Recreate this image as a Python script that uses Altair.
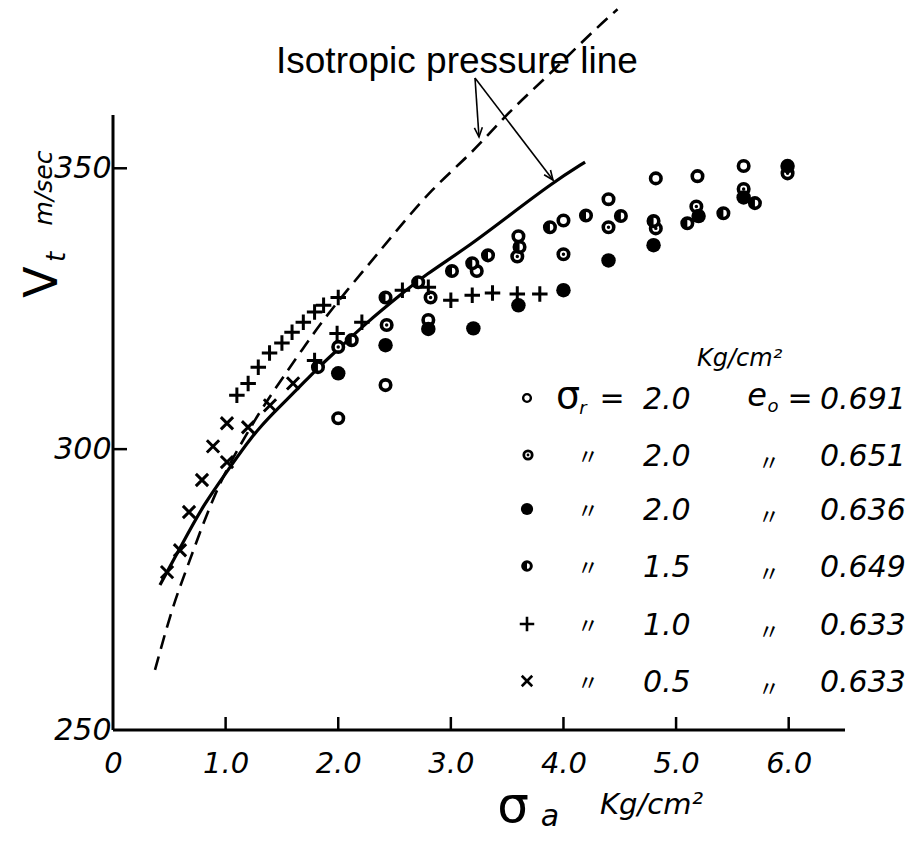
import altair as alt
import pandas as pd

# ---------------- data ----------------
# sigma_r = 2.0, e0 = 0.691 (open circle)
open_x = [2.00, 2.42, 2.80, 3.23, 3.60, 4.00, 4.40, 4.82, 5.19, 5.60]
open_y = [305.5, 311.4, 323.0, 331.7, 337.9, 340.7, 344.5, 348.2, 348.6, 350.4]
# sigma_r = 2.0, e0 = 0.651 (dotted circle)
dot_x = [2.00, 2.43, 2.82, 3.59, 4.00, 4.40, 4.82, 5.18, 5.60, 5.99]
dot_y = [318.2, 322.1, 327.0, 334.3, 334.7, 339.5, 339.3, 343.2, 346.3, 349.1]
# sigma_r = 2.0, e0 = 0.636 (filled circle)
fill_x = [2.00, 2.42, 2.80, 3.20, 3.60, 4.00, 4.40, 4.80, 5.20, 5.60, 5.99]
fill_y = [313.5, 318.5, 321.4, 321.5, 325.6, 328.3, 333.6, 336.3, 341.5, 344.8, 350.4]
# sigma_r = 1.5, e0 = 0.649 (half filled circle)
half_x = [1.82, 2.12, 2.42, 2.71, 3.01, 3.19, 3.33, 3.61, 3.88, 4.20, 4.51, 4.80, 5.10, 5.42, 5.70]
half_y = [314.6, 319.4, 327.0, 329.7, 331.7, 333.1, 334.5, 336.0, 339.5, 341.6, 341.5, 340.6, 340.2, 342.0, 343.8]
# sigma_r = 1.0, e0 = 0.633 (+)
plus_x = [1.10, 1.20, 1.29, 1.39, 1.50, 1.59, 1.69, 1.79, 1.87, 2.00,
          1.79, 1.99, 2.21, 2.57, 2.80, 3.00, 3.19, 3.37, 3.59, 3.79]
plus_y = [309.6, 311.7, 314.6, 317.1, 318.9, 320.8, 322.6, 324.4, 325.6, 327.0,
          315.8, 320.6, 322.6, 328.3, 328.8, 326.5, 327.4, 327.8, 327.6, 327.6]
# sigma_r = 0.5, e0 = 0.633 (x)
cross_x = [0.48, 0.595, 0.675, 0.79, 0.888, 1.012, 1.012, 1.199, 1.394, 1.599]
cross_y = [278.1, 282.0, 288.8, 294.5, 300.5, 304.6, 297.7, 303.9, 307.8, 311.7]

# isotropic pressure lines
iso_x = [0.373, 0.524, 0.64, 0.80, 0.977, 1.19, 1.33, 1.51, 1.72, 1.93,
         2.28, 2.46, 2.84, 3.19, 3.50, 3.85, 4.24, 4.48]
iso_y = [260.7, 271.7, 277.9, 286.8, 295.4, 302.8, 307.5, 312.8, 318.9, 324.7,
         333.1, 337.5, 346.6, 352.7, 359.8, 366.2, 374.0, 378.3]
sol_x = [0.417, 0.62, 0.80, 1.04, 1.22, 1.42, 1.63, 1.81, 1.99, 2.256,
         2.549, 2.77, 3.144, 3.499, 3.908, 4.192]
sol_y = [275.8, 283.3, 290.0, 296.8, 302.0, 306.4, 310.5, 314.3, 317.6, 322.6,
         327.4, 331.0, 335.9, 341.3, 347.5, 351.1]

x_ticks = [0, 1, 2, 3, 4, 5, 6]
x_tick_labels = ["0", "1.0", "2.0", "3.0", "4.0", "5.0", "6.0"]
y_ticks = [250, 300, 350]
y_tick_labels = ["250", "300", "350"]
x_inner_ticks = [1, 2, 3, 4, 5, 6]
y_inner_ticks = [300, 350]

legend_sr = ["2.0", "2.0", "2.0", "1.5", "1.0", "0.5"]
legend_e0 = ["0.691", "0.651", "0.636", "0.649", "0.633", "0.633"]

# ---------------- layout ----------------
W, H = 732, 719
X0, Y0 = 113, 11          # page position of the plot origin
FONT = "DejaVu Sans"
BLACK = "black"

xs = alt.Scale(domain=[0, 6.5], nice=False, zero=False)
ys = alt.Scale(domain=[250, 378], nice=False, zero=False)

x_label_expr = " : ".join(
    [f"datum.value == {v} ? '{l}'" for v, l in zip(x_ticks, x_tick_labels)] + ["''"]
)
y_label_expr = " : ".join(
    [f"datum.value == {v} ? '{l}'" for v, l in zip(y_ticks, y_tick_labels)] + ["''"]
)

xaxis = alt.Axis(values=x_ticks, labelExpr=x_label_expr, title=None, grid=False,
                 domain=False, ticks=False, tickSize=0, labelPadding=33,
                 labelFont=FONT, labelFontStyle="italic", labelFontSize=29,
                 labelColor=BLACK, labelOverlap=False, labelFlush=False,
                 labelBaseline="middle")
yaxis = alt.Axis(values=y_ticks, labelExpr=y_label_expr, title=None, grid=False,
                 domain=False, ticks=False, tickSize=0, labelPadding=2,
                 labelFont=FONT, labelFontStyle="italic", labelFontSize=30,
                 labelColor=BLACK, labelOverlap=False, labelFlush=False)


def enc():
    return dict(x=alt.X("x:Q", scale=xs, axis=xaxis),
                y=alt.Y("y:Q", scale=ys, axis=yaxis))


def frame(xv, yv):
    return pd.DataFrame({"x": xv, "y": yv})


PLUS = "M-1,0L1,0M0,-1L0,1"
CROSS = "M-1,-1L1,1M-1,1L1,-1"
HALF = "M0,-1A1,1 0 0,0 0,1Z"
ARROW = "M-0.42,-1L0,0L0.42,-1"

layers = []

# axis lines and inner ticks
layers.append(alt.Chart(pd.DataFrame({"x": [0]})).mark_rule(color=BLACK, strokeWidth=3).encode(
    x=alt.X("x:Q", scale=xs, axis=xaxis), x2=alt.datum(6.5),
    y=alt.datum(250, scale=ys, axis=yaxis)))
layers.append(alt.Chart(pd.DataFrame({"y": [250]})).mark_rule(color=BLACK, strokeWidth=3).encode(
    y=alt.Y("y:Q", scale=ys, axis=yaxis), y2=alt.datum(359.5),
    x=alt.datum(0, scale=xs, axis=xaxis)))
layers.append(alt.Chart(pd.DataFrame({"x": x_inner_ticks})).mark_rule(color=BLACK, strokeWidth=2.5).encode(
    x=alt.X("x:Q", scale=xs, axis=xaxis), y=alt.value(H), y2=alt.value(H - 13)))
layers.append(alt.Chart(pd.DataFrame({"y": y_inner_ticks})).mark_rule(color=BLACK, strokeWidth=2.5).encode(
    y=alt.Y("y:Q", scale=ys, axis=yaxis), x=alt.value(0), x2=alt.value(14)))

# curves
layers.append(alt.Chart(frame(iso_x, iso_y)).mark_line(
    color=BLACK, strokeWidth=2.6, strokeDash=[14, 8], interpolate="basis").encode(**enc()))
layers.append(alt.Chart(frame(sol_x, sol_y)).mark_line(
    color=BLACK, strokeWidth=3.2, interpolate="basis").encode(**enc()))

RING = dict(shape="circle", filled=True, fill="white", stroke=BLACK, strokeWidth=3.6, opacity=1)

# data markers
layers.append(alt.Chart(frame(open_x, open_y)).mark_point(size=110, **RING).encode(**enc()))
layers.append(alt.Chart(frame(dot_x, dot_y)).mark_point(size=110, **RING).encode(**enc()))
layers.append(alt.Chart(frame(dot_x, dot_y)).mark_point(
    shape="circle", filled=True, color=BLACK, size=12, opacity=1).encode(**enc()))
layers.append(alt.Chart(frame(fill_x, fill_y)).mark_point(
    shape="circle", filled=True, color=BLACK, size=210, opacity=1).encode(**enc()))
layers.append(alt.Chart(frame(half_x, half_y)).mark_point(size=110, **RING).encode(**enc()))
layers.append(alt.Chart(frame(half_x, half_y)).mark_point(
    shape=HALF, filled=True, color=BLACK, size=145, opacity=1).encode(**enc()))
layers.append(alt.Chart(frame(plus_x, plus_y)).mark_point(
    shape=PLUS, filled=False, stroke=BLACK, strokeWidth=3, size=240, opacity=1).encode(**enc()))
layers.append(alt.Chart(frame(cross_x, cross_y)).mark_point(
    shape=CROSS, filled=False, stroke=BLACK, strokeWidth=3, size=150, opacity=1).encode(**enc()))

dummy = pd.DataFrame({"k": [0]})


def txt(s, px, py, size=30, font=FONT, style="italic", align="left",
        baseline="alphabetic", angle=0):
    return alt.Chart(dummy).mark_text(
        font=font, fontSize=size, fontStyle=style, align=align,
        baseline=baseline, angle=angle, color=BLACK).encode(
        x=alt.value(px - X0), y=alt.value(py - Y0), text=alt.value(s))


def sym(px, py, **kw):
    return alt.Chart(dummy).mark_point(opacity=1, **kw).encode(
        x=alt.value(px - X0), y=alt.value(py - Y0))


# annotation text and arrows
layers.append(txt("Isotropic pressure line", 276, 73, size=37, font="Liberation Sans", style="normal"))
arrow_start = (475, 78)
arrow_ends = [(479, 137, 356.2), (553, 180, 323.1)]
for ex, ey, ang in arrow_ends:
    layers.append(alt.Chart(dummy).mark_rule(color=BLACK, strokeWidth=1.6).encode(
        x=alt.value(arrow_start[0] - X0), y=alt.value(arrow_start[1] - Y0),
        x2=alt.value(ex - X0), y2=alt.value(ey - Y0)))
    layers.append(sym(ex, ey, shape=ARROW, filled=False, stroke=BLACK, strokeWidth=1.6,
                      size=360, angle=ang))

# axis titles
layers.append(txt("V", 43, 282, size=46, style="normal", align="center", baseline="middle", angle=270))
layers.append(txt("t", 57, 257, size=26, align="center", baseline="middle", angle=270))
layers.append(txt("m/sec", 44, 188, size=25, align="center", baseline="middle", angle=270))
layers.append(txt("σ", 513, 822, size=50, style="normal", align="center"))
layers.append(txt("a", 550, 826, size=30, align="center"))
layers.append(txt("Kg/cm²", 600, 814, size=29, align="left"))

# legend
row_y = [398, 455, 509, 566, 624, 681]
layers.append(txt("Kg/cm²", 697, 366, size=24))
layers.append(sym(527, row_y[0], size=60, shape="circle", filled=True, fill="white", stroke=BLACK, strokeWidth=2.4))
layers.append(sym(528, row_y[1], size=70, shape="circle", filled=True, fill="white", stroke=BLACK, strokeWidth=2.8))
layers.append(sym(528, row_y[1], size=8, shape="circle", filled=True, color=BLACK))
layers.append(sym(527, row_y[2], size=150, shape="circle", filled=True, color=BLACK))
layers.append(sym(527, row_y[3], size=75, shape="circle", filled=True, fill="white", stroke=BLACK, strokeWidth=3))
layers.append(sym(527, row_y[3], size=100, shape=HALF, filled=True, color=BLACK))
layers.append(sym(527, row_y[4], size=210, shape=PLUS, filled=False, stroke=BLACK, strokeWidth=2.6))
layers.append(sym(527, row_y[5], size=110, shape=CROSS, filled=False, stroke=BLACK, strokeWidth=2.6))

layers.append(txt("σ", 568, row_y[0] + 10, size=38, style="normal", align="center"))
layers.append(txt("r", 583, row_y[0] + 16, size=18, align="center"))
layers.append(txt("=", 612, row_y[0] + 10, size=30, style="normal", align="center"))
layers.append(txt("e", 757, row_y[0] + 8, size=32, align="center"))
layers.append(txt("o", 773, row_y[0] + 14, size=18, align="center"))
layers.append(txt("=", 800, row_y[0] + 10, size=30, style="normal", align="center"))
for i in range(6):
    yy = row_y[i] + 11
    layers.append(txt(legend_sr[i], 643, yy, size=30))
    layers.append(txt(legend_e0[i], 820, yy, size=30))
    if i > 0:
        layers.append(txt("〃", 588, yy - 2, size=22, font="Noto Sans CJK JP", style="normal", align="center"))
        layers.append(txt("〃", 769, yy + 4, size=22, font="Noto Sans CJK JP", style="normal", align="center"))

chart = alt.layer(*layers).properties(
    width=W, height=H,
    autosize=alt.AutoSizeParams(type="none"),
    padding={"left": X0 - 8, "top": Y0 - 8, "right": 69, "bottom": 106},
    background="white",
).configure_view(stroke=None)

chart.save("out.html", embed_options={"renderer": "svg", "actions": False})
